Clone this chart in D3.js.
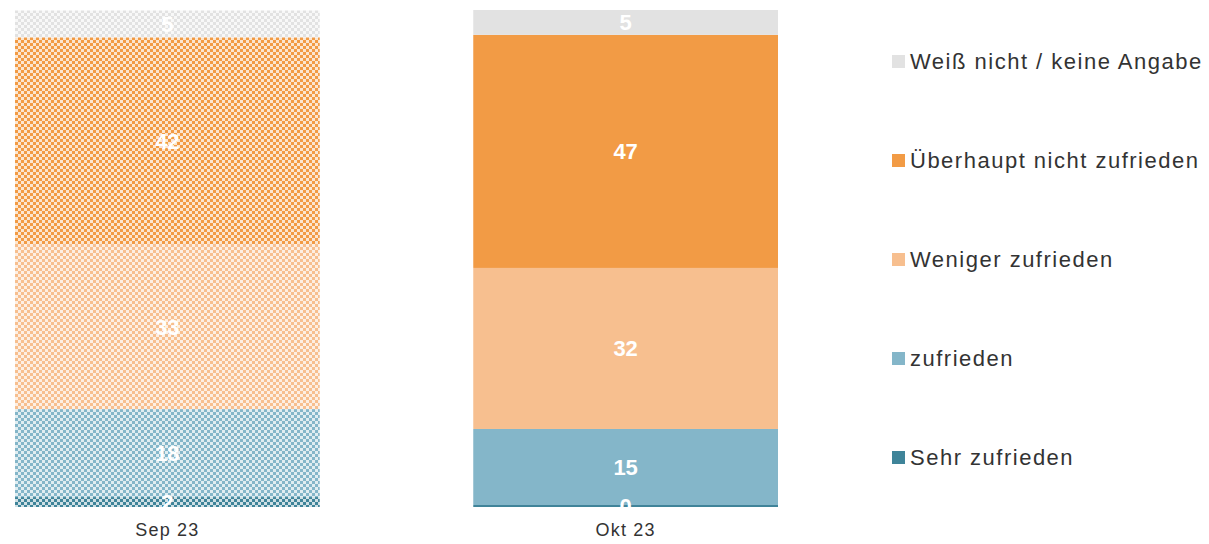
<!DOCTYPE html>
<html>
<head>
<meta charset="utf-8">
<script src="https://cdn.jsdelivr.net/npm/d3@7"></script>
<style>
  body { margin: 0; background: #fff; }
  svg { font-family: "Liberation Sans", Arial, sans-serif; }
</style>
</head>
<body>
<div id="chart"></div>
<script>
// categories and series (bottom to top)
var categories = ["Sep 23", "Okt 23"];
var seriesNames = ["Sehr zufrieden", "zufrieden", "Weniger zufrieden", "Überhaupt nicht zufrieden", "Weiß nicht / keine Angabe"];
var seriesColors = ["#3f8499", "#84b6c9", "#f7bf8f", "#f29b45", "#e2e2e2"];
// values per series, one entry per category
var sehrZufrieden = [2.0, 0.4];
var zufrieden = [17.7, 15.3];
var wenigerZufrieden = [33.2, 32.4];
var ueberhauptNicht = [41.6, 46.9];
var weissNicht = [5.4, 5.0];
var patterned = [true, false];

var width = 1209, height = 544;
var margin = {top: 10, right: 0, bottom: 37, left: 15};
var plotW = 763, plotH = height - margin.top - margin.bottom;

var data = categories.map(function(c, i) {
    return {
        cat: c,
        "Sehr zufrieden": sehrZufrieden[i],
        "zufrieden": zufrieden[i],
        "Weniger zufrieden": wenigerZufrieden[i],
        "Überhaupt nicht zufrieden": ueberhauptNicht[i],
        "Weiß nicht / keine Angabe": weissNicht[i],
        pat: patterned[i]
    };
});

var svg = d3.select("#chart").append("svg")
    .attr("width", width)
    .attr("height", height);

var defs = svg.append("defs");
// checkerboard patterns for the first bar
seriesNames.forEach(function(s, i) {
    var p = defs.append("pattern")
        .attr("id", "pat" + i)
        .attr("patternUnits", "userSpaceOnUse")
        .attr("width", 6).attr("height", 6);
    p.append("rect").attr("width", 6).attr("height", 6).attr("fill", "#fff");
    p.append("rect").attr("width", 3).attr("height", 3).attr("fill", seriesColors[i]);
    p.append("rect").attr("x", 3).attr("y", 3).attr("width", 3).attr("height", 3).attr("fill", seriesColors[i]);
    p.append("rect").attr("width", 6).attr("height", 6).attr("fill", seriesColors[i]).attr("opacity", 0.25);
});

defs.append("clipPath").attr("id", "plotclip")
    .append("rect").attr("x", 0).attr("y", -margin.top).attr("width", plotW).attr("height", plotH + margin.top);

var g = svg.append("g")
    .attr("transform", "translate(" + margin.left + "," + margin.top + ")");

var x = d3.scaleBand()
    .domain(categories)
    .range([0, plotW])
    .paddingInner(0.335)
    .paddingOuter(0);

var y = d3.scaleLinear()
    .domain([0, 100])
    .range([plotH, 0]);

var color = d3.scaleOrdinal().domain(seriesNames).range(seriesColors);

var stacked = d3.stack().keys(seriesNames)(data);

var layers = g.append("g").selectAll("g")
    .data(stacked)
    .enter().append("g");

layers.selectAll("rect")
    .data(function(d) { return d.map(function(v) { v.key = d.key; v.idx = d.index; return v; }); })
    .enter().append("rect")
    .attr("x", function(d) { return x(d.data.cat); })
    .attr("y", function(d) { return y(d[1]); })
    .attr("height", function(d) { return y(d[0]) - y(d[1]); })
    .attr("width", x.bandwidth())
    .attr("fill", function(d) { return d.data.pat ? "url(#pat" + d.idx + ")" : color(d.key); });

// value labels, clipped to plot
var labels = g.append("g").attr("clip-path", "url(#plotclip)");
stacked.forEach(function(layer) {
    layer.forEach(function(d) {
        labels.append("text")
            .attr("x", x(d.data.cat) + x.bandwidth() / 2)
            .attr("y", (y(d[0]) + y(d[1])) / 2)
            .attr("dy", "0.36em")
            .attr("text-anchor", "middle")
            .attr("fill", "#fff")
            .style("font-weight", "bold")
            .style("font-size", "22px")
            .text(Math.round(d[1] - d[0]));
    });
});

// category labels
g.append("g").selectAll("text")
    .data(categories)
    .enter().append("text")
    .attr("x", function(d) { return x(d) + x.bandwidth() / 2; })
    .attr("y", plotH + 29)
    .attr("text-anchor", "middle")
    .attr("fill", "#333")
    .style("font-size", "18px")
    .style("letter-spacing", "1.2px")
    .text(function(d) { return d; });

// legend, top to bottom
var legendItems = seriesNames.slice().reverse();
var legend = svg.append("g").selectAll("g")
    .data(legendItems)
    .enter().append("g")
    .attr("transform", function(d, i) { return "translate(892," + (61 + i * 99) + ")"; });

legend.append("rect")
    .attr("x", 0).attr("y", -6)
    .attr("width", 13).attr("height", 13)
    .attr("fill", function(d) { return color(d); });

legend.append("text")
    .attr("x", 18)
    .attr("y", 0)
    .attr("dy", "0.36em")
    .attr("fill", "#333")
    .style("font-size", "22px")
    .style("letter-spacing", "1.5px")
    .text(function(d) { return d; });
</script>
</body>
</html>
